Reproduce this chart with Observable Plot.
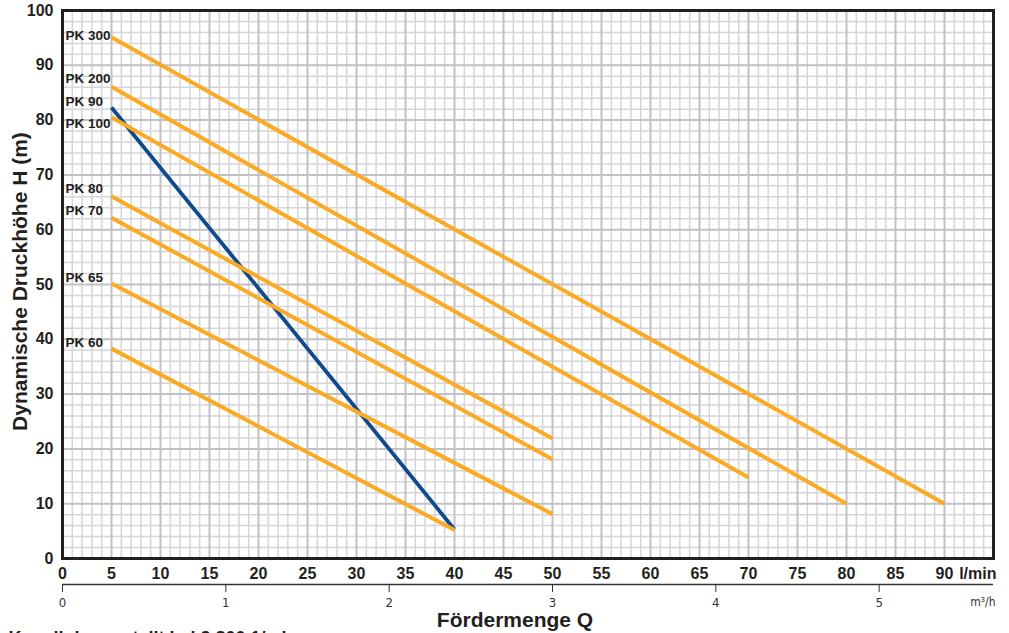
<!DOCTYPE html>
<html>
<head>
<meta charset="utf-8">
<script src="https://cdn.jsdelivr.net/npm/d3@7"></script>
<script src="https://cdn.jsdelivr.net/npm/@observablehq/plot@0.6"></script>
<style>
  html, body { margin: 0; padding: 0; background: white; overflow: hidden; }
  #chart svg { display: block; }
</style>
</head>
<body>
<div id="chart"></div>
<script>
// Pump curves: Förderhöhe H (m) vs Fördermenge Q (l/min)
const models = ["PK 300", "PK 200", "PK 90", "PK 100", "PK 80", "PK 70", "PK 65", "PK 60"];
const qStart = [5, 5, 5, 5, 5, 5, 5, 5];
const qEnd   = [90, 80, 40, 70, 50, 50, 50, 40];
const hStart = [95.1, 86.1, 82.3, 80.5, 66.1, 62.2, 50.2, 38.3];
const hEnd   = [10, 10, 5.3, 14.8, 21.9, 18.1, 8.1, 5.2];
const labelH = [95.4, 87.5, 83.4, 79.3, 67.5, 63.4, 51.3, 39.4];
const highlighted = ["PK 90"];

const xTicks = [0, 5, 10, 15, 20, 25, 30, 35, 40, 45, 50, 55, 60, 65, 70, 75, 80, 85, 90];
const yTicks = [0, 10, 20, 30, 40, 50, 60, 70, 80, 90, 100];
const m3hTicks = [0, 1, 2, 3, 4, 5];

const xTitle = "Fördermenge Q";
const yTitle = "Dynamische Druckhöhe H (m)";
const xUnit = "l/min";
const m3hUnit = "m³/h";
const caption = "Kennlinien erstellt bei 2.800 1/min";

const rows = models.map((m, i) => ({model: m, q1: qStart[i], q2: qEnd[i], h1: hStart[i], h2: hEnd[i]}));
const ORANGE = "#fbaa24";
const BLUE = "#0f4a8c";
const DARK = "#231f20";
const NARROW = "'Liberation Sans Narrow', 'DejaVu Sans Condensed', 'Liberation Sans', sans-serif";

const chart = Plot.plot({
  width: 1009,
  height: 633,
  marginLeft: 62,
  marginRight: 16,
  marginTop: 10,
  marginBottom: 75,
  x: {domain: [0, 95]},
  y: {domain: [0, 100]},
  style: {fontFamily: "'Liberation Sans', Arial, sans-serif", background: "white", color: DARK},
  marks: [
    Plot.ruleX(d3.range(0, 96, 1).filter(d => d % 5 !== 0), {stroke: "#d6d6da", strokeWidth: 1.5}),
    Plot.ruleY(d3.range(0, 101, 2).filter(d => d % 10 !== 0), {stroke: "#d6d6da", strokeWidth: 1.5}),
    Plot.ruleX(d3.range(0, 96, 5), {stroke: "#c1c1c6", strokeWidth: 2}),
    Plot.ruleY(yTicks, {stroke: "#c1c1c6", strokeWidth: 2}),
    Plot.link(rows.filter(d => highlighted.includes(d.model)), {x1: "q1", y1: "h1", x2: "q2", y2: "h2", stroke: BLUE, strokeWidth: 3.8, strokeLinecap: "butt"}),
    Plot.link(rows.filter(d => !highlighted.includes(d.model)), {x1: "q1", y1: "h1", x2: "q2", y2: "h2", stroke: ORANGE, strokeWidth: 4, strokeLinecap: "butt"}),
    Plot.frame({stroke: DARK, strokeWidth: 3}),
    Plot.text(models, {frameAnchor: "left", y: labelH, text: d => d, dx: 3, textAnchor: "start", lineAnchor: "middle", fontSize: 13.5, fontWeight: "bold", fill: DARK}),
    Plot.axisY(yTicks, {tickSize: 0, tickPadding: 9, fontSize: 16, fontWeight: "bold", color: DARK, label: null}),
    Plot.axisX(xTicks, {tickSize: 0, tickPadding: 9, fontSize: 16, fontWeight: "bold", color: DARK, label: null}),
    Plot.text([xUnit], {frameAnchor: "bottom-right", dx: 3, dy: 15, textAnchor: "end", lineAnchor: "middle", fontSize: 16, fontWeight: "bold", fill: DARK}),
    Plot.ruleY([0], {dy: 26, stroke: "#333", strokeWidth: 1.4}),
    Plot.axisX(m3hTicks.map(d => d * 1000 / 60), {
      dy: 26, tickSize: 8, tickPadding: 5, fontSize: 13, color: "#333", label: null,
      fontFamily: NARROW,
      tickFormat: d => String(Math.round(d * 60 / 1000))
    }),
    Plot.text([m3hUnit], {frameAnchor: "bottom-right", dx: 2, dy: 44, textAnchor: "end", lineAnchor: "middle", fontSize: 12, fill: "#333", fontFamily: NARROW}),
    Plot.text([xTitle], {frameAnchor: "bottom", dx: -13, dy: 62, textAnchor: "middle", lineAnchor: "middle", fontSize: 21, fontWeight: "bold", fill: DARK}),
    Plot.text([yTitle], {frameAnchor: "left", rotate: -90, dx: -42, dy: -3, textAnchor: "middle", lineAnchor: "middle", fontSize: 21, fontWeight: "bold", fill: DARK}),
    Plot.text([caption], {frameAnchor: "bottom-left", textAnchor: "start", lineAnchor: "top", dx: -54, dy: 73, fontSize: 18, fontWeight: "bold", fill: DARK})
  ]
});
document.getElementById("chart").appendChild(chart);
</script>
</body>
</html>
